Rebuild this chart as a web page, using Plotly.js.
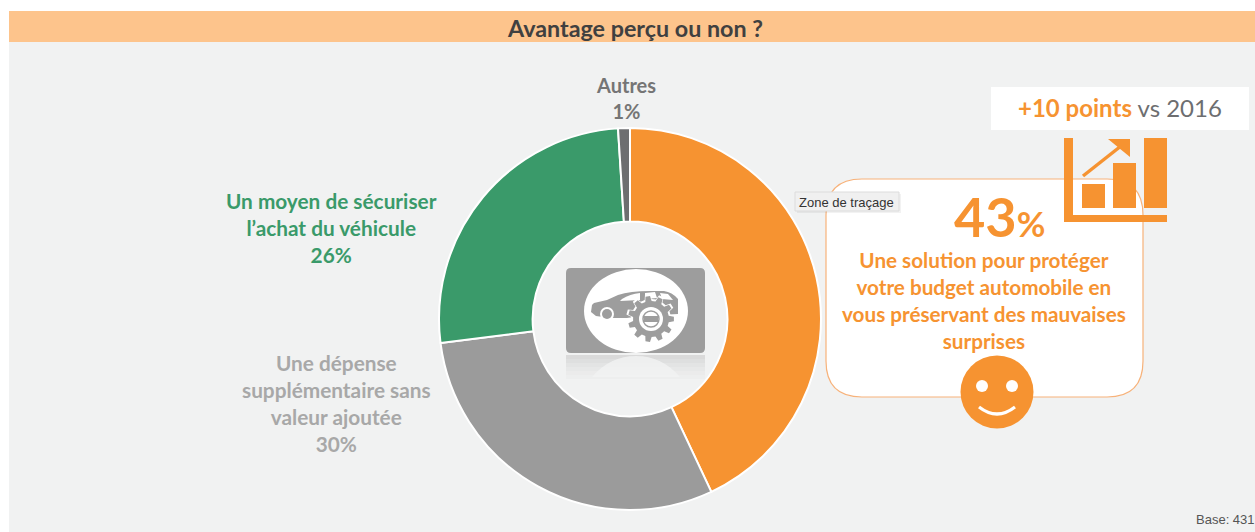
<!DOCTYPE html>
<html><head><meta charset="utf-8">
<script src="https://cdn.plot.ly/plotly-3.0.1.min.js"></script>
<style>html,body{margin:0;padding:0;background:#fff;overflow:hidden}#c{width:1255px;height:532px}</style>
</head><body><div id="c"></div>
<script>
const categories = ["Une solution pour protéger votre budget automobile en vous préservant des mauvaises surprises","Une dépense supplémentaire sans valeur ajoutée","Un moyen de sécuriser l’achat du véhicule","Autres"];
const values = [43,30,26,1];
const sliceColors = ["#f69331","#9b9b9b","#3a9a6a","#6d6e70"];
const W=1255,H=532;
const OR="#f69331", GR="#9d9d9d", LG="#f1f2f2";
const fx=x=>x/W, fy=y=>1-y/H;
const FONT="Lato, 'Open Sans', sans-serif";

function P(s){ // pixel path -> paper path
  return s.replace(/(-?[\d.]+),(-?[\d.]+)/g,(m,a,b)=>fx(+a).toFixed(6)+","+fy(+b).toFixed(6));
}
function rect(x0,y0,x1,y1,fill,extra){return Object.assign({type:"rect",xref:"paper",yref:"paper",x0:fx(x0),x1:fx(x1),y0:fy(y0),y1:fy(y1),fillcolor:fill,line:{width:0},layer:"above"},extra||{});}
function circ(cx,cy,rx,ry,fill,extra){return Object.assign({type:"circle",xref:"paper",yref:"paper",x0:fx(cx-rx),x1:fx(cx+rx),y0:fy(cy+ry),y1:fy(cy-ry),fillcolor:fill,line:{width:0},layer:"above"},extra||{});}
function path(d,fill,extra){return Object.assign({type:"path",xref:"paper",yref:"paper",path:P(d),fillcolor:fill,line:{width:0},layer:"above"},extra||{});}
function rr(x0,y0,x1,y1,r){return `M${x0+r},${y0} L${x1-r},${y0} Q${x1},${y0} ${x1},${y0+r} L${x1},${y1-r} Q${x1},${y1} ${x1-r},${y1} L${x0+r},${y1} Q${x0},${y1} ${x0},${y1-r} L${x0},${y0+r} Q${x0},${y0} ${x0+r},${y0} Z`;}
function gear(cx,cy,ro,ri,n){let pts=[];for(let i=0;i<n;i++){const a=2*Math.PI*i/n,w=Math.PI/n*0.5;
  [[ri,a-w*1.25],[ro,a-w*0.7],[ro,a+w*0.7],[ri,a+w*1.25]].forEach(p=>pts.push((cx+p[0]*Math.cos(p[1])).toFixed(2)+","+(cy+p[0]*Math.sin(p[1])).toFixed(2)));}
  return "M"+pts.join(" L")+" Z";}

const shapes=[
  rect(9,11,1255,532,LG,{layer:"below"}),
  rect(9,11,1255,42,"#fdc48c",{layer:"below"}),
  // callout card
  path(rr(826,179,1143,397,36),"#ffffff",{line:{color:"#f7b27a",width:1.2}}),
  rect(991,87,1249,130,"#ffffff"),
  // growth icon
  rect(1064,138,1073,222,OR), rect(1064,215,1167,222,OR),
  rect(1082,184,1105,208,OR), rect(1113,163,1136,208,OR), rect(1144,138,1167,208,OR),
  path("M1083,176 L1121,146","rgba(0,0,0,0)",{line:{color:OR,width:3.5}}),
  path("M1108,139 L1130,139 L1130,157 Z",OR),
  // smiley
  circ(997,392,36.5,36.5,OR),
  circ(982,386,6,6,"#ffffff"), circ(1012,386,6,6,"#ffffff"),
  path("M979,407 Q997,421 1015,407","rgba(0,0,0,0)",{line:{color:"#ffffff",width:3.2}}),
  // tooltip
  rect(797,194,901,213,"rgba(0,0,0,0.05)"),
  rect(795,192,899,211,"#f0f0f0",{line:{color:"#dcdcdc",width:1}}),
  // car badge
  path(rr(566,268,705,353,5),GR),
  circ(636,311,52,42,"#ffffff"),
  path("M592,305 L594,303 L607,300 L618,295 Q630,291 650,291 L664,291 Q672,292 678,299 L678,314 L640,316 L627,318 L610,318 L596,316 L591,312 Z",GR),
  circ(607,314,7,7,"#ffffff"), circ(607,314,5,5,GR),
  path("M622,299 Q630,294 640,293 L640,300 L620,301 Z","#ffffff"),
  path("M645,293 L655,292 L657,298 L645,299 Z","#ffffff"),
  path("M660,293 L668,294 L673,300 L662,299 Z","#ffffff"),
  path(gear(651,319,25,20,11),"#ffffff"),
  path(gear(651,319,23,18,11),GR),
  circ(651,319,12,12,"#ffffff"),
  rect(644,316,658,322,GR),
  circ(651,319,8,8,"rgba(0,0,0,0)",{line:{color:GR,width:1.5}})
];
// fading reflection under the badge
[0.28,0.22,0.16,0.11,0.07,0.04].forEach((o,i)=>{
  shapes.push(rect(566,355+i*4,705,359+i*4,`rgba(157,157,157,${o})`));
});
shapes.push(path("M592,377 Q610,356 636,356 Q662,356 680,377 Z","rgba(241,242,242,0.85)"));

function ann(x,y,text,size,color,bold,extra){
  return Object.assign({xref:"paper",yref:"paper",x:fx(x),y:fy(y),xanchor:"center",yanchor:"middle",showarrow:false,align:"center",
    text:bold?`<b>${text}</b>`:text,font:{family:FONT,size:size,color:color}},extra||{});
}
const annotations=[
  ann(635,28,"Avantage perçu ou non ?",23.3,"#404040",true),
  ann(626,98,"Autres<br>"+values[3]+"%",20,"#757575",true),
  ann(331.5,227,"Un moyen de sécuriser<br>l’achat du véhicule<br>"+values[2]+"%",20.8,sliceColors[2],true),
  ann(336,403,"Une dépense<br>supplémentaire sans<br>valeur ajoutée<br>"+values[1]+"%",20.8,"#a8a8a8",true),
  ann(1120,108,`<b><span style="color:${OR}">+10 points</span></b> vs 2016`,24,"#6d6e70",false),
  ann(999,216,values[0]+'<span style="font-size:35px">%</span>',54,OR,true),
  ann(984,300,"Une solution pour protéger<br>votre budget automobile en<br>vous préservant des mauvaises<br>surprises",20.7,"#f69331",true),
  ann(846,202,"Zone de traçage",13,"#333333",false,{font:{family:"'Liberation Sans', sans-serif",size:13,color:"#333333"}}),
  ann(1225.5,519,"Base: 431",13,"#555555",false,{font:{family:"'Liberation Sans', sans-serif",size:13,color:"#555555"}})
];
Plotly.newPlot("c",[{
  type:"pie",labels:categories,values:values,hole:0.51,sort:false,direction:"clockwise",rotation:0,
  marker:{colors:sliceColors,line:{color:"#ffffff",width:2}},textinfo:"none",hoverinfo:"label+percent",showlegend:false,
  domain:{x:[fx(439),fx(821)],y:[fy(510),fy(128)]}
}],{
  width:W,height:H,margin:{l:0,r:0,t:0,b:0},paper_bgcolor:"#ffffff",showlegend:false,shapes,annotations
},{displayModeBar:false,staticPlot:false});
</script></body></html>
